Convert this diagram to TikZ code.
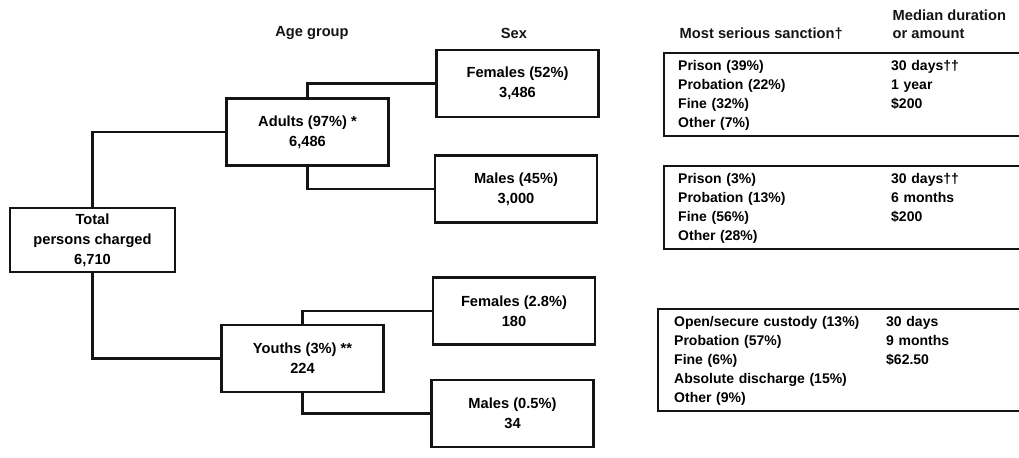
\documentclass[tikz,border=0pt]{standalone}
\usepackage{fontspec}
\setmainfont{Liberation Sans}
\usetikzlibrary{positioning}
\definecolor{InkDark}{HTML}{141414}
\begin{document}
\begin{tikzpicture}[x=0.75pt, y=-0.75pt,
  grp/.style={draw=InkDark, line width=1.9pt, minimum width=121.5pt, minimum height=50pt, align=center, font=\fontsize{11}{15}\selectfont\bfseries, inner sep=2pt},
  sanc/.style={draw=InkDark, line width=1.8pt, anchor=north west, align=left, inner xsep=0pt, inner ysep=0pt, text width=285pt, font=\fontsize{10.5}{14.25}\selectfont\bfseries},
  hdr/.style={font=\fontsize{11}{13.5}\selectfont\bfseries, text=InkDark},
  link/.style={line width=1.7pt, draw=InkDark},
]
\useasboundingbox (0,0) rectangle (1019,457);
\clip (0,0) rectangle (1019,457);
% column headings
\node[hdr] (hage) at (312,33) {Age group};
\node[hdr] (hsex) at (514,33) {Sex};
\node[hdr, anchor=west] (hsanc) at (675,34) {Most serious sanction†};
\node[hdr, anchor=west, align=left] (hmed) at (888,24) {Median duration\\or amount};
% persons charged, split by age and sex
\node[grp, minimum width=123.75pt, minimum height=48pt] (total) at (92.5,240) {Total\\persons charged\\6,710};
\node[grp] (adults) at (307.5,132) {Adults (97\%) *\\6,486};
\node[grp] (youths) at (302.5,358.5) {Youths (3\%) **\\224};
\foreach \n/\x/\y/\t in {fa/517.5/83.5/{Females (52\%)\\3,486}, ma/516/189/{Males (45\%)\\3,000},
                        fy/514/311/{Females (2.8\%)\\180}, my/512.5/413.5/{Males (0.5\%)\\34}}{
  \node[grp] (\n) at (\x,\y) {\t};
}
\draw[link] (total.north) |- (adults.west);
\draw[link] (total.south) |- (youths.west);
\draw[link] (adults.north) |- (fa.west);
\draw[link] (adults.south) |- (ma.west);
\draw[link] (youths.north) |- (fy.west);
\draw[link] (youths.south) |- (my.west);
% sanctions (boxes run off the right edge)
\node[sanc, minimum height=62.25pt] (sfa) at (663,52) {%
  \begin{tabular}{@{\hspace{10.5pt}}p{159.75pt}@{}l@{}}
  Prison (39\%) & 30 days†† \\ Probation (22\%) & 1 year \\ Fine (32\%) & \$200 \\ Other (7\%) &
  \end{tabular}};
\node[sanc, minimum height=62.25pt] (sma) at (663,165) {%
  \begin{tabular}{@{\hspace{10.5pt}}p{159.75pt}@{}l@{}}
  Prison (3\%) & 30 days†† \\ Probation (13\%) & 6 months \\ Fine (56\%) & \$200 \\ Other (28\%) &
  \end{tabular}};
\node[sanc, minimum height=76.5pt] (sy) at (657,308) {%
  \begin{tabular}{@{\hspace{12pt}}p{159pt}@{}l@{}}
  Open/secure custody (13\%) & 30 days \\ Probation (57\%) & 9 months \\ Fine (6\%) & \$62.50 \\
  Absolute discharge (15\%) & \\ Other (9\%) &
  \end{tabular}};
\end{tikzpicture}
\end{document}
